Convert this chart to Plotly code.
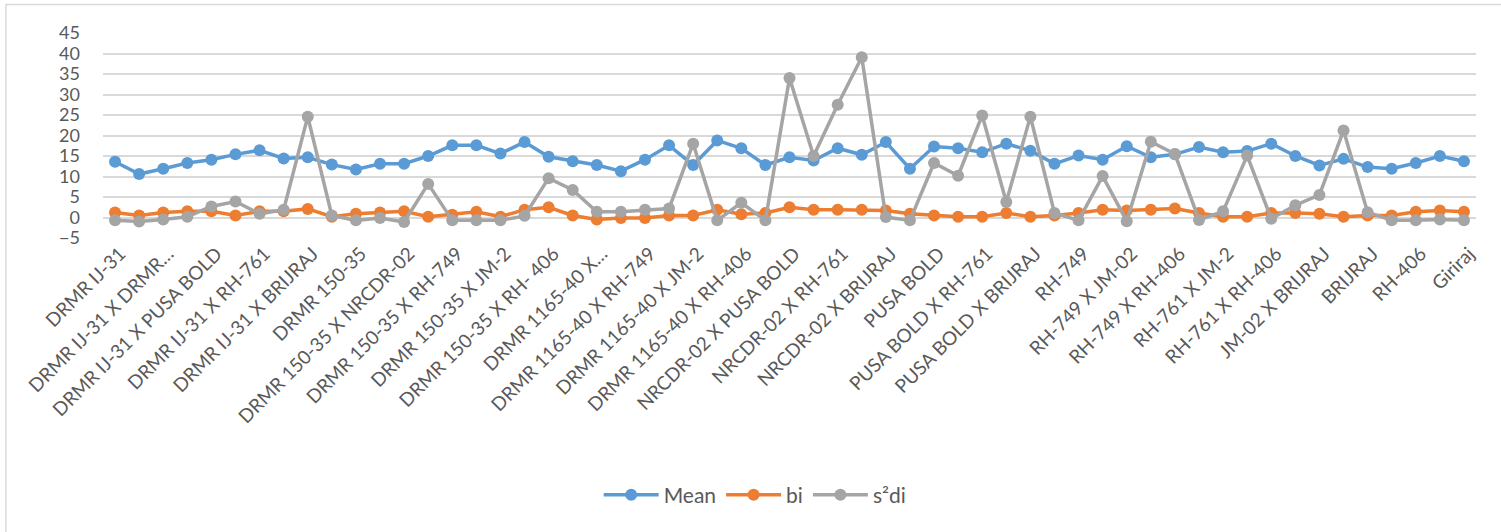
import plotly.graph_objects as go

# Genotypes (parents, crosses and checks)
genotypes = [
    "DRMR IJ-31", "DRMR IJ-31 X DRMR 150-35", "DRMR IJ-31 X DRMR 1165-40",
    "DRMR IJ-31 X NRCDR-02", "DRMR IJ-31 X PUSA BOLD", "DRMR IJ-31 X RH-749",
    "DRMR IJ-31 X RH-761", "DRMR IJ-31 X JM-02", "DRMR IJ-31 X BRIJRAJ",
    "DRMR IJ-31 X RH-406", "DRMR 150-35", "DRMR 150-35 X DRMR 1165-40",
    "DRMR 150-35 X NRCDR-02", "DRMR 150-35 X PUSA BOLD", "DRMR 150-35 X RH-749",
    "DRMR 150-35 X RH-761", "DRMR 150-35 X JM-2", "DRMR 150-35 X BRIJRAJ",
    "DRMR 150-35 X RH- 406", "DRMR 1165-40", "DRMR 1165-40 X NRCDR-02",
    "DRMR 1165-40 X PUSA BOLD", "DRMR 1165-40 X RH-749", "DRMR 1165-40 X RH-761",
    "DRMR 1165-40 X JM-2", "DRMR 1165-40 X BRIJRAJ", "DRMR 1165-40 X RH-406",
    "NRCDR-02", "NRCDR-02 X PUSA BOLD", "NRCDR-02 X RH-749", "NRCDR-02 X RH-761",
    "NRCDR-02 X JM-2", "NRCDR-02 X BRIJRAJ", "NRCDR-02 X RH-406", "PUSA BOLD",
    "PUSA BOLD X RH-749", "PUSA BOLD X RH-761", "PUSA BOLD X JM-2",
    "PUSA BOLD X BRIJRAJ", "PUSA BOLD X RH-406", "RH-749", "RH-749 X RH-761",
    "RH-749 X JM-02", "RH-749 X BRIJRAJ", "RH-749 X RH-406", "RH-761",
    "RH-761 X JM-2", "RH-761 X BRIJRAJ", "RH-761 X RH-406", "JM-02",
    "JM-02 X BRIJRAJ", "JM-02 X RH-406", "BRIJRAJ", "BRIJRAJ X RH-406",
    "RH-406", "Varuna", "Giriraj",
]

mean = [
    13.6, 10.6, 11.9, 13.3, 14.1, 15.4, 16.4, 14.4, 14.7, 12.9,
    11.7, 13.1, 13.1, 15.0, 17.6, 17.6, 15.6, 18.4, 14.8, 13.7,
    12.8, 11.3, 14.1, 17.6, 12.8, 18.8, 16.9, 12.8, 14.7, 13.9,
    16.9, 15.3, 18.4, 11.9, 17.3, 16.9, 15.9, 18.0, 16.3, 13.1,
    15.1, 14.1, 17.4, 14.7, 15.4, 17.2, 15.9, 16.2, 18.0, 15.0,
    12.7, 14.3, 12.3, 11.9, 13.3, 15.0, 13.7,
]

bi = [
    1.2, 0.5, 1.2, 1.5, 1.5, 0.5, 1.5, 1.5, 2.1, 0.2,
    0.9, 1.2, 1.5, 0.2, 0.7, 1.4, 0.2, 1.9, 2.5, 0.5,
    -0.5, -0.1, -0.1, 0.5, 0.5, 1.9, 0.8, 1.1, 2.5, 1.9,
    1.9, 1.9, 1.7, 0.9, 0.5, 0.2, 0.2, 1.1, 0.2, 0.5,
    1.1, 1.9, 1.7, 1.9, 2.2, 1.1, 0.2, 0.2, 1.1, 1.1,
    0.9, 0.2, 0.5, 0.5, 1.4, 1.7, 1.4,
]

s2di = [
    -0.7, -1.0, -0.5, 0.2, 2.7, 3.9, 0.9, 1.9, 24.6, 0.5,
    -0.7, -0.1, -1.1, 8.2, -0.7, -0.7, -0.7, 0.4, 9.6, 6.7,
    1.4, 1.4, 1.9, 2.2, 18.0, -0.7, 3.6, -0.7, 34.0, 15.0,
    27.5, 39.1, 0.1, -0.7, 13.3, 10.2, 24.9, 3.8, 24.6, 1.1,
    -0.7, 10.1, -0.9, 18.5, 15.5, -0.6, 1.5, 15.1, -0.3, 3.0,
    5.5, 21.2, 1.3, -0.7, -0.7, -0.5, -0.7,
]

# Every other genotype is labelled on the category axis
tick_vals = genotypes[::2]
tick_text = list(tick_vals)
tick_text[1] = "DRMR IJ-31 X DRMR…"
tick_text[10] = "DRMR 1165-40 X…"

y_ticks = [-5, 0, 5, 10, 15, 20, 25, 30, 35, 40, 45]

FONT = "Lato, Calibri, Carlito, sans-serif"
TEXT = "#595959"

series = [
    ("Mean", mean, "#5B9BD5"),
    ("bi", bi, "#ED7D31"),
    ("s²di", s2di, "#A5A5A5"),
]

fig = go.Figure()
for name, vals, color in series:
    fig.add_trace(go.Scatter(
        x=genotypes, y=vals, name=name, mode="lines+markers",
        line=dict(color=color, width=3.5),
        marker=dict(color=color, size=12, line=dict(width=0)),
        cliponaxis=False,
    ))

# Light outer chart frame
fig.add_shape(type="rect", xref="paper", yref="paper",
              x0=-0.0707, x1=1.03, y0=-1.5, y1=1.139,
              line=dict(color="#D9D9D9", width=1.5), fillcolor="rgba(0,0,0,0)",
              layer="below")

fig.update_layout(
    width=1501, height=532,
    margin=dict(l=103, r=25, t=33, b=294),
    paper_bgcolor="white", plot_bgcolor="white",
    font=dict(family=FONT, size=19, color=TEXT),
    showlegend=True,
    legend=dict(orientation="h", x=0.475, xanchor="center",
                y=-1.254, yanchor="middle",
                font=dict(family=FONT, size=21, color=TEXT),
                itemwidth=55, tracegroupgap=0),
    xaxis=dict(
        type="category", categoryorder="array", categoryarray=genotypes,
        tickmode="array", tickvals=tick_vals, ticktext=tick_text,
        tickangle=-45, showgrid=False, showline=False, ticks="",
        tickfont=dict(family=FONT, size=19, color=TEXT),
        ticklabelshift=5,
        range=[-0.5, len(genotypes) - 0.5],
    ),
    yaxis=dict(
        range=[-5, 45], tickmode="array", tickvals=y_ticks,
        showgrid=True, gridcolor="#D9D9D9", gridwidth=1.5,
        zeroline=False, showline=False, ticks="",
        tickfont=dict(family=FONT, size=18, color=TEXT),
        ticklabelstandoff=22,
    ),
)

fig.write_html("out.html")
